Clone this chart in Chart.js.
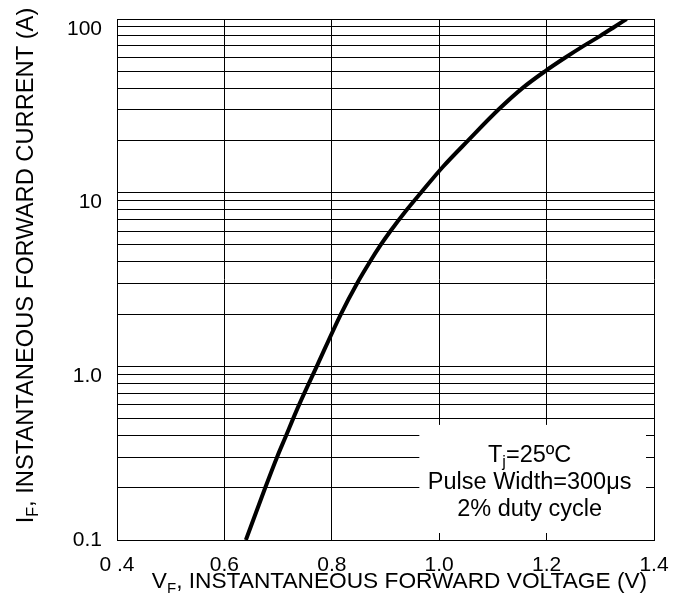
<!DOCTYPE html>
<html>
<head>
<meta charset="utf-8">
<script src="https://cdn.jsdelivr.net/npm/chart.js@4.4.1/dist/chart.umd.min.js"></script>
<style>
  html, body { margin: 0; padding: 0; background: #fff; }
  #wrap { width: 682px; height: 606px; position: relative; }
</style>
</head>
<body>
<div id="wrap"><canvas id="c"></canvas></div>
<script>
// ---- data ----
const forwardVoltage = [0.640, 0.676, 0.698, 0.715, 0.728, 0.739, 0.772, 0.817, 0.847, 0.871, 0.891, 0.909, 0.940, 0.966, 1.007, 1.054, 1.110, 1.155, 1.197, 1.235, 1.269, 1.300, 1.326, 1.349];
const forwardCurrent = [0.1, 0.2, 0.3, 0.4, 0.5, 0.6, 1.0, 2, 3, 4, 5, 6, 8, 10, 14.1, 20, 30, 40, 50, 60, 70, 80, 90, 100];

const xTickValues = [0.4, 0.6, 0.8, 1.0, 1.2, 1.4];
const xTickLabels = ['0 .4', '0.6', '0.8', '1.0', '1.2', '1.4'];

const yGridValues = [0.1, 0.2, 0.3, 0.4, 0.5, 0.6, 0.7, 0.8, 0.9,
                     1, 2, 3, 4, 5, 6, 7, 8, 9,
                     10, 20, 30, 40, 50, 60, 70, 80, 90, 100];
const yTickValues = [0.1, 1, 10, 100];
const yTickLabels = ['0.1', '1.0', '10', '100'];

const xTitle = ['V', 'F', ', INSTANTANEOUS FORWARD VOLTAGE (V)'];
const yTitle = ['I', 'F', ', INSTANTANEOUS FORWARD CURRENT (A)'];
const noteLines = [['T', 'j', '=25ºC'], ['Pulse Width=300μs', '', ''], ['2% duty cycle', '', '']];

const FONT = '"Liberation Sans", Arial, sans-serif';

function drawSub(ctx, parts, cx, baseline, size) {
  const subSize = Math.round(size * 0.68);
  ctx.font = size + 'px ' + FONT;
  const w0 = ctx.measureText(parts[0]).width;
  const w2 = ctx.measureText(parts[2]).width;
  ctx.font = subSize + 'px ' + FONT;
  const w1 = parts[1] ? ctx.measureText(parts[1]).width : 0;
  let x = cx - (w0 + w1 + w2) / 2;
  ctx.textAlign = 'left';
  ctx.textBaseline = 'alphabetic';
  ctx.font = size + 'px ' + FONT;
  ctx.fillText(parts[0], x, baseline); x += w0;
  if (parts[1]) {
    ctx.font = subSize + 'px ' + FONT;
    ctx.fillText(parts[1], x, baseline + size * 0.22); x += w1;
  }
  ctx.font = size + 'px ' + FONT;
  ctx.fillText(parts[2], x, baseline);
}

const decorPlugin = {
  id: 'decor',
  beforeDatasetsDraw(chart) {
    const { ctx, chartArea, scales } = chart;
    const x0 = scales.x.getPixelForValue(0.963);
    const x1 = chartArea.right - 8;
    const y0 = scales.y.getPixelForValue(0.46);
    const y1 = chartArea.bottom - 7;
    ctx.save();
    ctx.fillStyle = '#fff';
    ctx.fillRect(x0, y0, x1 - x0, y1 - y0);
    ctx.restore();
    chart.$noteBox = { x0, x1, y0, y1 };
  },
  afterDraw(chart) {
    const { ctx, chartArea, scales } = chart;
    ctx.save();
    ctx.fillStyle = '#000';
    // y tick labels
    ctx.font = '21px ' + FONT;
    ctx.textAlign = 'right';
    ctx.textBaseline = 'middle';
    yTickValues.forEach((v, i) => {
      const py = scales.y.getPixelForValue(v) + (i === 0 ? 0 : 10);
      ctx.fillText(yTickLabels[i], chartArea.left - 15, py);
    });
    // x title
    drawSub(ctx, xTitle, (chartArea.left + chartArea.right) / 2 + 14, 588, 22.7);
    // y title
    ctx.save();
    ctx.translate(33, (chartArea.top + chartArea.bottom) / 2 - 14);
    ctx.rotate(-Math.PI / 2);
    drawSub(ctx, yTitle, 0, 0, 23.7);
    ctx.restore();
    // note
    const b = chart.$noteBox;
    const cx = (b.x0 + b.x1) / 2 - 3;
    noteLines.forEach((ln, i) => {
      drawSub(ctx, ln, cx, b.y0 + 37 + i * 27, 23.5);
    });
    ctx.restore();
  }
};

new Chart(document.getElementById('c'), {
  type: 'line',
  data: {
    datasets: [{
      data: forwardVoltage.map((v, i) => ({ x: v, y: forwardCurrent[i] })),
      borderColor: '#000',
      borderWidth: 4,
      pointRadius: 0,
      fill: false,
      cubicInterpolationMode: 'monotone'
    }]
  },
  plugins: [decorPlugin],
  options: {
    responsive: true,
    maintainAspectRatio: false,
    animation: false,
    events: [],
    layout: { padding: { top: 19, right: 28, left: 0, bottom: 0 } },
    plugins: { legend: { display: false }, tooltip: { enabled: false } },
    scales: {
      x: {
        type: 'linear',
        min: 0.4, max: 1.4,
        afterBuildTicks: (s) => { s.ticks = xTickValues.map(v => ({ value: v })); },
        afterFit: (s) => { s.height = 66; },
        grid: { color: '#000', lineWidth: 1, drawTicks: false },
        border: { display: true, color: '#000', width: 1 },
        ticks: {
          color: '#000',
          font: { family: FONT, size: 21 },
          padding: 13,
          maxRotation: 0,
          autoSkip: false,
          callback: (v, i) => xTickLabels[i]
        }
      },
      y: {
        type: 'logarithmic',
        min: 0.1, max: 100,
        afterBuildTicks: (s) => { s.ticks = yGridValues.map(v => ({ value: v })); },
        afterFit: (s) => { s.width = 117; },
        grid: { color: '#000', lineWidth: 1, drawTicks: false },
        border: { display: true, color: '#000', width: 1 },
        ticks: { display: false }
      }
    }
  }
});
</script>
</body>
</html>
